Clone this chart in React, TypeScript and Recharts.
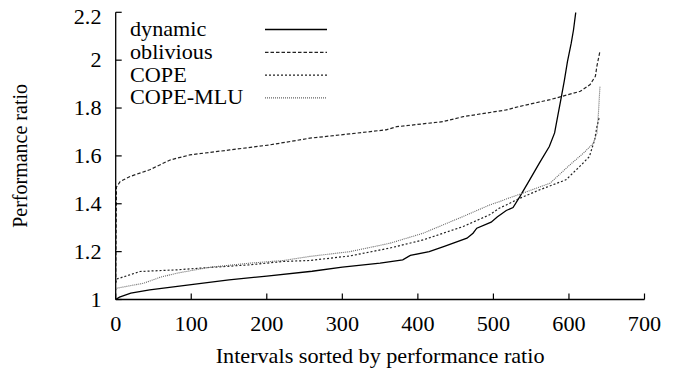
import React from 'react';
import { LineChart, Line, XAxis, YAxis, Label } from 'recharts';

const dynamicX = [0, 5, 20, 45, 100, 150, 200, 260, 300, 350, 380, 390, 415, 435, 465, 473, 478, 497, 505, 517, 526, 535, 548, 561, 574, 581, 585, 590, 594, 598, 603, 606, 609];
const dynamicY = [1.0, 1.01, 1.027, 1.04, 1.062, 1.082, 1.098, 1.118, 1.135, 1.152, 1.166, 1.184, 1.2, 1.222, 1.256, 1.277, 1.298, 1.323, 1.345, 1.372, 1.384, 1.43, 1.5, 1.571, 1.639, 1.696, 1.764, 1.848, 1.917, 1.994, 2.071, 2.126, 2.2];

const obliviousX = [0, 1, 6, 19, 45, 72, 98, 151, 204, 257, 310, 358, 372, 433, 460, 517, 535, 575, 615, 628, 635, 637, 641];
const obliviousY = [1.07, 1.47, 1.493, 1.514, 1.542, 1.583, 1.604, 1.625, 1.646, 1.674, 1.692, 1.709, 1.722, 1.743, 1.764, 1.792, 1.807, 1.835, 1.87, 1.898, 1.933, 1.975, 2.037];

const copeX = [0, 1, 32, 81, 125, 178, 222, 257, 310, 363, 407, 460, 495, 508, 517, 535, 561, 596, 614, 627, 634, 637, 640];
const copeY = [1.07, 1.085, 1.117, 1.124, 1.134, 1.145, 1.159, 1.163, 1.182, 1.215, 1.249, 1.305, 1.354, 1.382, 1.395, 1.423, 1.458, 1.5, 1.555, 1.597, 1.667, 1.722, 1.76];

const mluX = [0, 1, 37, 59, 81, 125, 178, 222, 257, 310, 363, 407, 460, 495, 508, 517, 535, 575, 601, 619, 632, 637, 639, 641];
const mluY = [1.04, 1.047, 1.068, 1.093, 1.11, 1.135, 1.152, 1.163, 1.18, 1.2, 1.235, 1.277, 1.347, 1.395, 1.409, 1.42, 1.44, 1.486, 1.562, 1.611, 1.652, 1.695, 1.778, 1.889];

const xTicks = [0, 100, 200, 300, 400, 500, 600, 700];
const yTicks = [1, 1.2, 1.4, 1.6, 1.8, 2, 2.2];

const seriesNames = ['dynamic', 'oblivious', 'COPE', 'COPE-MLU'];

const zip = (xs: number[], ys: number[]) => xs.map((x, i) => ({ x, y: ys[i] }));

const dynamicData = zip(dynamicX, dynamicY);
const obliviousData = zip(obliviousX, obliviousY);
const copeData = zip(copeX, copeY);
const mluData = zip(mluX, mluY);

const FONT = 'Liberation Serif';
const SX = 1.11;
const TS: React.CSSProperties = { fontFamily: FONT, fontSize: 20 };

const styles = [
  { stroke: '#000', strokeWidth: 1.3, dash: undefined as string | undefined },
  { stroke: '#222', strokeWidth: 1.2, dash: '3.5 2' },
  { stroke: '#222', strokeWidth: 1.2, dash: '2 2' },
  { stroke: '#666', strokeWidth: 1.1, dash: '1 1' },
];

const XTick = (props: any) => {
  const { x, y, payload } = props;
  return (
    <g transform={`translate(${x},${y})`}>
      <text transform={`scale(${SX},1)`} textAnchor="middle" dy="0.71em" style={TS} fill="#000">
        {payload.value}
      </text>
    </g>
  );
};

const YTick = (props: any) => {
  const { x, y, payload } = props;
  return (
    <g transform={`translate(${x},${y})`}>
      <text transform={`scale(${SX},1)`} textAnchor="end" dy="0.35em" style={TS} fill="#000">
        {String(+Number(payload.value).toFixed(1))}
      </text>
    </g>
  );
};

const NoTick = () => <g />;

const XTitle = (props: any) => {
  const vb = props.viewBox || { x: 107.7, y: 291.5, width: 528.8 };
  const cx = vb.x + vb.width / 2;
  const y = vb.y + 63;
  return (
    <g transform={`translate(${cx},${y})`}>
      <text transform={`scale(${SX},1)`} textAnchor="middle" style={TS} fill="#000">
        Intervals sorted by performance ratio
      </text>
    </g>
  );
};

const YTitle = (props: any) => {
  const vb = props.viewBox || { x: 0, y: 4.3, height: 287.2 };
  const cy = vb.y + vb.height / 2;
  const x = 18.6;
  return (
    <text
      x={x}
      y={cy}
      transform={`rotate(-90, ${x}, ${cy})`}
      textAnchor="middle"
      style={TS}
      fill="#000"
    >
      Performance ratio
    </text>
  );
};

const W = 675;
const H = 368;

const LegendOverlay = () => {
  const rowY = [21.5, 44.3, 67.1, 89.9];
  return (
    <svg width={W} height={H} style={{ position: 'absolute', left: 0, top: 0, pointerEvents: 'none' }}>
      {seriesNames.map((name, i) => (
        <g key={name}>
          <g transform={`translate(122,${rowY[i] + 6.5})`}>
            <text transform={`scale(${SX},1)`} style={TS} fill="#000">
              {name}
            </text>
          </g>
          <line
            x1={257}
            x2={319}
            y1={rowY[i]}
            y2={rowY[i]}
            stroke={styles[i].stroke}
            strokeWidth={styles[i].strokeWidth}
            strokeDasharray={styles[i].dash}
          />
        </g>
      ))}
    </svg>
  );
};

export default function App() {
  const datas = [dynamicData, obliviousData, copeData, mluData];
  return (
    <div style={{ position: 'relative', width: W, height: H, fontFamily: FONT }}>
      <LineChart width={W} height={H} margin={{ top: 4.3, right: 38.5, left: 0, bottom: 16.5 }}>
        <XAxis
          xAxisId="b"
          dataKey="x"
          type="number"
          domain={[0, 700]}
          ticks={xTicks}
          height={60}
          tickSize={-6}
          tickMargin={23}
          tick={<XTick />}
          axisLine={{ stroke: '#000', strokeWidth: 1.3 }}
          tickLine={{ stroke: '#000', strokeWidth: 1.2 }}
          allowDataOverflow
        >
          <Label content={<XTitle />} />
        </XAxis>
        <XAxis
          xAxisId="t"
          orientation="top"
          dataKey="x"
          type="number"
          domain={[0, 700]}
          ticks={xTicks}
          height={0}
          tickSize={-6}
          tick={<NoTick />}
          axisLine={{ stroke: '#000', strokeWidth: 1.3 }}
          tickLine={{ stroke: '#000', strokeWidth: 1.2 }}
        />
        <YAxis
          yAxisId="l"
          type="number"
          domain={[1, 2.2]}
          ticks={yTicks}
          width={107.7}
          tickSize={-6}
          tickMargin={20.2}
          tick={<YTick />}
          axisLine={{ stroke: '#000', strokeWidth: 1.3 }}
          tickLine={{ stroke: '#000', strokeWidth: 1.2 }}
          allowDataOverflow
        >
          <Label content={<YTitle />} />
        </YAxis>
        <YAxis
          yAxisId="r"
          orientation="right"
          type="number"
          domain={[1, 2.2]}
          ticks={yTicks}
          width={0}
          tickSize={-6}
          tick={<NoTick />}
          axisLine={{ stroke: '#000', strokeWidth: 1.3 }}
          tickLine={{ stroke: '#000', strokeWidth: 1.2 }}
        />
        {datas.map((d, i) => (
          <Line
            key={seriesNames[i]}
            xAxisId="b"
            yAxisId="l"
            data={d}
            dataKey="y"
            name={seriesNames[i]}
            type="linear"
            stroke={styles[i].stroke}
            strokeWidth={styles[i].strokeWidth}
            strokeDasharray={styles[i].dash}
            dot={false}
            activeDot={false}
            isAnimationActive={false}
          />
        ))}
      </LineChart>
      <LegendOverlay />
    </div>
  );
}
